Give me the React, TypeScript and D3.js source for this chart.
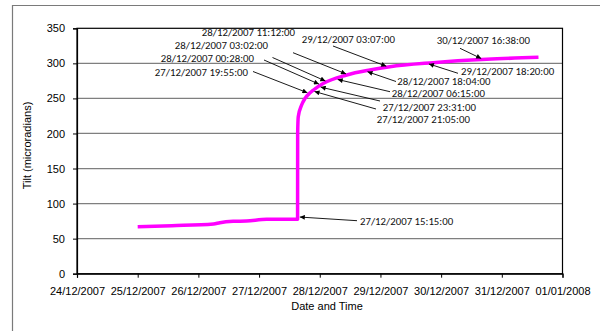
import React, { useEffect, useRef } from "react";
import * as d3 from "d3";

// tilt record
const tiltTimes = [
  "25/12/2007 00:00", "25/12/2007 13:30", "26/12/2007 06:00", "26/12/2007 08:30",
  "26/12/2007 13:45", "26/12/2007 19:00", "27/12/2007 03:00", "27/12/2007 15:14",
  "27/12/2007 15:16", "27/12/2007 15:30", "27/12/2007 16:50", "27/12/2007 18:10",
  "27/12/2007 20:10", "27/12/2007 21:30", "28/12/2007 01:30", "28/12/2007 10:40",
  "28/12/2007 19:50", "29/12/2007 03:45", "29/12/2007 20:50", "30/12/2007 18:00",
  "31/12/2007 14:30",
];
const tiltValues = [
  67, 68.5, 71, 72.8, 74.7, 75.2, 77.6, 77.8, 200, 224, 240.6, 250, 258, 262,
  271.6, 283.4, 290.5, 295.2, 301, 305.8, 308.6,
];

const yTicks = [0, 50, 100, 150, 200, 250, 300, 350];
const xStart = "24/12/2007";
const xEnd = "01/01/2008";

const annotationLabels = [
  "27/12/2007 15:15:00", "27/12/2007 19:55:00", "28/12/2007 00:28:00",
  "28/12/2007 03:02:00", "28/12/2007 11:12:00", "29/12/2007 03:07:00",
  "30/12/2007 16:38:00", "29/12/2007 18:20:00", "28/12/2007 18:04:00",
  "28/12/2007 06:15:00", "27/12/2007 23:31:00", "27/12/2007 21:05:00",
];

const W = 600;
const H = 331;

const App = () => {
  const ref = useRef<SVGSVGElement>(null);

  useEffect(() => {
    const svg = d3.select(ref.current);
    svg.selectAll("*").remove();

    const parseT = d3.timeParse("%d/%m/%Y %H:%M");
    const parseD = d3.timeParse("%d/%m/%Y");
    const parseA = d3.timeParse("%d/%m/%Y %H:%M:%S");
    const data = tiltTimes.map((t, i) => ({ t: parseT(t) as Date, v: tiltValues[i] }));

    const left = 77, right = 562.5, top = 28.3, bottom = 273.7;
    const x = d3.scaleTime()
      .domain([parseD(xStart) as Date, parseD(xEnd) as Date])
      .range([left, right]);
    const y = d3.scaleLinear().domain([0, 350]).range([bottom, top]);

    svg.append("rect").attr("width", W).attr("height", H).attr("fill", "white");

    // outer chart border: only its left and top edges fall inside the picture
    svg.append("path")
      .attr("d", `M12.5,${H} L12.5,5.5 L${W},5.5`)
      .attr("fill", "none").attr("stroke", "#7a7a7a").attr("stroke-width", 1.2);

    // gridlines
    svg.append("g")
      .selectAll("line")
      .data(yTicks.slice(1, -1))
      .join("line")
      .attr("x1", left).attr("x2", right)
      .attr("y1", d => y(d)).attr("y2", d => y(d))
      .attr("stroke", "#7f7f7f").attr("stroke-width", 1.3);

    // plot border
    svg.append("rect")
      .attr("x", left).attr("y", top)
      .attr("width", right - left).attr("height", bottom - top)
      .attr("fill", "none").attr("stroke", "black").attr("stroke-width", 1.2);

    const axisFont = "'Liberation Sans', Arial, sans-serif";

    const xAxis = svg.append("g")
      .attr("transform", `translate(0, ${bottom})`)
      .call(d3.axisBottom(x)
        .ticks(d3.timeDay.every(1))
        .tickFormat(d3.timeFormat("%d/%m/%Y") as any)
        .tickSizeOuter(0)
        .tickSize(4)
        .tickPadding(10));
    xAxis.select(".domain").attr("stroke", "black").attr("stroke-width", 1.2);
    xAxis.selectAll("text").attr("font-family", axisFont).attr("font-size", 11).attr("fill", "black");

    const yAxis = svg.append("g")
      .attr("transform", `translate(${left}, 0)`)
      .call(d3.axisLeft(y).tickValues(yTicks).tickSizeOuter(0).tickSize(4).tickPadding(8));
    yAxis.select(".domain").attr("stroke", "black").attr("stroke-width", 1.2);
    yAxis.selectAll("text").attr("font-family", axisFont).attr("font-size", 11).attr("fill", "black");

    svg.append("text")
      .attr("x", 327).attr("y", 310)
      .attr("text-anchor", "middle")
      .attr("font-family", axisFont).attr("font-size", 11)
      .text("Date and Time");

    svg.append("text")
      .attr("transform", "translate(31, 145.5) rotate(-90)")
      .attr("text-anchor", "middle")
      .attr("font-family", axisFont).attr("font-size", 11)
      .text("Tilt (microradians)");

    // data line
    const line = d3.line<{ t: Date; v: number }>()
      .x(d => x(d.t))
      .y(d => y(d.v))
      .curve(d3.curveMonotoneX);

    svg.append("path")
      .datum(data)
      .attr("fill", "none")
      .attr("stroke", "#ff00ff")
      .attr("stroke-width", 3.5)
      .attr("stroke-linejoin", "round")
      .attr("d", line);

    // callouts: label placement (px) and arrow tail, like hand-placed text boxes
    const calloutLayout = [
      { lx: 360, ly: 221, anchor: "start", sx: 357, sy: 220.7 },
      { lx: 248, ly: 72.3, anchor: "end", sx: 253, sy: 71.5 },
      { lx: 254, ly: 58.7, anchor: "end", sx: 264, sy: 60 },
      { lx: 268, ly: 45.7, anchor: "end", sx: 272.5, sy: 57.5 },
      { lx: 295, ly: 32.7, anchor: "end", sx: 293, sy: 52.7 },
      { lx: 301.7, ly: 39, anchor: "start", sx: 333, sy: 46 },
      { lx: 436.7, ly: 40.7, anchor: "start", sx: 460, sy: 48.3 },
      { lx: 461, ly: 71.7, anchor: "start", sx: 458, sy: 73.3 },
      { lx: 397.3, ly: 81.7, anchor: "start", sx: 396, sy: 81.5 },
      { lx: 391.7, ly: 93.3, anchor: "start", sx: 390, sy: 91.7 },
      { lx: 382.7, ly: 107.3, anchor: "start", sx: 380, sy: 101 },
      { lx: 376.7, ly: 119, anchor: "start", sx: 376, sy: 109 },
    ];

    const times = data.map(d => +d.t);
    const valueAt = (t: Date) => {
      const i = d3.bisectRight(times, +t);
      if (i <= 0) return data[0].v;
      if (i >= data.length) return data[data.length - 1].v;
      const a = data[i - 1], b = data[i];
      const f = (+t - +a.t) / (+b.t - +a.t);
      return a.v + f * (b.v - a.v);
    };

    svg.append("defs").append("marker")
      .attr("id", "arrowhead")
      .attr("viewBox", "0 0 10 10")
      .attr("refX", 10).attr("refY", 5)
      .attr("markerWidth", 6).attr("markerHeight", 5)
      .attr("markerUnits", "userSpaceOnUse")
      .attr("orient", "auto")
      .append("path")
      .attr("d", "M0,0 L10,5 L0,10 z")
      .attr("fill", "black");

    const noteFont = "Carlito, Calibri, Lato, sans-serif";
    const notes = svg.append("g");
    annotationLabels.forEach((label, i) => {
      const lay = calloutLayout[i];
      const t = parseA(label) as Date;
      const cx = x(t);
      const cy = y(i === 0 ? 81 : valueAt(t));
      // stop the arrow at the edge of the thick line
      const dx = lay.sx - cx, dy = lay.sy - cy;
      const len = Math.hypot(dx, dy);
      const ex = cx + (dx / len) * 2.2, ey = cy + (dy / len) * 2.2;
      notes.append("line")
        .attr("x1", lay.sx).attr("y1", lay.sy)
        .attr("x2", ex).attr("y2", ey)
        .attr("stroke", "black").attr("stroke-width", 0.9)
        .attr("marker-end", "url(#arrowhead)");
      notes.append("text")
        .attr("x", lay.lx).attr("y", lay.ly)
        .attr("dy", "0.35em")
        .attr("text-anchor", lay.anchor)
        .attr("font-family", noteFont).attr("font-size", 10.8)
        .attr("fill", "#111")
        .text(label);
    });
  }, []);

  return (
    <div style={{ position: "absolute", left: 0, top: 0, width: W, height: H, overflow: "hidden" }}>
      <svg ref={ref} width={W} height={H} style={{ display: "block" }}></svg>
    </div>
  );
};

export default App;
